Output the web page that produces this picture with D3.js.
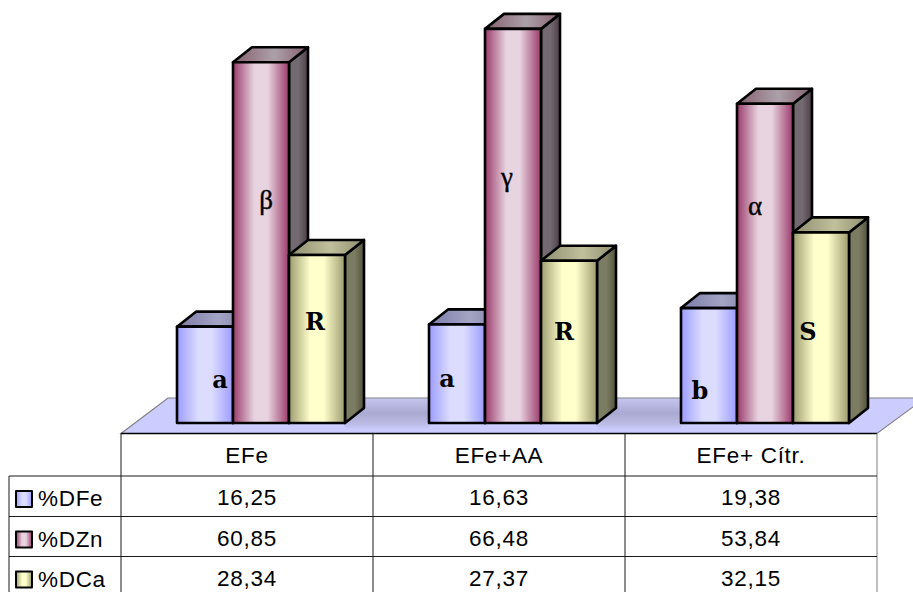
<!DOCTYPE html>
<html>
<head>
<meta charset="utf-8">
<script src="https://cdn.jsdelivr.net/npm/d3@7"></script>
<style>
html,body{margin:0;padding:0;background:#fff;}
svg{display:block;}
text{font-family:"Liberation Sans",Arial,sans-serif;fill:#000;}
</style>
</head>
<body>
<svg id="chart" width="913" height="592"></svg>
<script>
// Dissolution percentages per extract and element
const categories = ["EFe", "EFe+AA", "EFe+ Cítr."];
const seriesNames = ["%DFe", "%DZn", "%DCa"];
const dFe = [16.25, 16.63, 19.38];
const dZn = [60.85, 66.48, 53.84];
const dCa = [28.34, 27.37, 32.15];
const tickLabels = [["16,25", "16,63", "19,38"], ["60,85", "66,48", "53,84"], ["28,34", "27,37", "32,15"]];
const letterFe = ["a", "a", "b"];
const letterZn = ["β", "γ", "α"];
const letterCa = ["R", "R", "S"];

const series = [dFe, dZn, dCa];
const letters = [letterFe, letterZn, letterCa];

const svg = d3.select("#chart");
const defs = svg.append("defs");

// Face colours: edge, centre, side shade and top shade
const palettes = [
  {edge:"#9c9cff", mid:"#dcdcff", sideA:"#5c5c88", sideB:"#7c7ca4", topA:"#7c7ca8", topB:"#a4a4c4"},
  {edge:"#9a3a6a", mid:"#e8d4e0", sideA:"#4e3e48", sideB:"#726a70", topA:"#86606f", topB:"#aca0a8"},
  {edge:"#9c9c70", mid:"#ffffcc", sideA:"#54543e", sideB:"#7c7c62", topA:"#8e8e70", topB:"#c0c09c"}
];

function hGrad(id, stops) {
  const g = defs.append("linearGradient").attr("id", id)
    .attr("x1", 0).attr("x2", 1).attr("y1", 0).attr("y2", 0);
  stops.forEach(([o, c]) => g.append("stop").attr("offset", o).attr("stop-color", c));
}
palettes.forEach((p, i) => {
  hGrad("front" + i, [[0, p.edge], [0.38, p.mid], [0.62, p.mid], [1, p.edge]]);
  hGrad("side" + i, [[0, p.sideB], [0.5, p.sideB], [1, p.sideA]]);
  hGrad("top" + i, [[0, p.topA], [0.55, p.topB], [1, p.topA]]);
});
const shade = defs.append("linearGradient").attr("id", "floorShade")
  .attr("x1", 0).attr("x2", 0).attr("y1", 0).attr("y2", 1);
[[0, "#c4c4ee"], [0.45, "#a9a9d2"], [0.72, "#b6b6de"], [1, "#ccccff"]]
  .forEach(([o, c]) => shade.append("stop").attr("offset", o).attr("stop-color", c));

const baseY = 423;
const y = d3.scaleLinear().domain([0, 70]).range([baseY, baseY - 415]);
const tableX = d3.scalePoint().domain(categories).range([121, 625]);
const barX = d3.scaleBand().domain(d3.range(3)).range([56, 224]).paddingInner(0).paddingOuter(0);
const depth = {x: 19, y: 15};

// Floor beneath the bars
const floorY = {front: 433.5, back: 398};
svg.append("polygon")
  .attr("points", [[121, floorY.front], [168, floorY.back], [925, floorY.back], [877, floorY.front]].join(" "))
  .attr("fill", "#ccccff").attr("stroke", "#808080").attr("stroke-width", 1.2);
// Soft shading on the floor between neighbouring bar groups
[0, 1].forEach(i => {
  const x0 = tableX(categories[i]) + barX(2) + barX.bandwidth();
  const x1 = tableX(categories[i + 1]) + barX(0);
  svg.append("rect").attr("x", x0).attr("y", floorY.back + 1).attr("width", x1 - x0).attr("height", 31)
    .attr("fill", "url(#floorShade)");
});
svg.append("line").attr("x1", 121).attr("x2", 877).attr("y1", floorY.front).attr("y2", floorY.front)
  .attr("stroke", "#000").attr("stroke-width", 1.5);

// Bars, drawn left to right so each front overlaps the previous side
const stroke = {stroke: "#000", "stroke-width": 2.6, "stroke-linejoin": "round"};
function styled(sel) { Object.entries(stroke).forEach(([k, v]) => sel.attr(k, v)); return sel; }

categories.forEach((cat, c) => {
  seriesNames.forEach((name, s) => {
    const x0 = tableX(cat) + barX(s), x1 = x0 + barX.bandwidth();
    const top = y(series[s][c]);
    const g = svg.append("g").attr("class", "bar");
    styled(g.append("polygon"))
      .attr("points", [[x1, top], [x1 + depth.x, top - depth.y], [x1 + depth.x, baseY - depth.y], [x1, baseY]].join(" "))
      .attr("fill", `url(#side${s})`);
    styled(g.append("polygon"))
      .attr("points", [[x0, top], [x0 + depth.x, top - depth.y], [x1 + depth.x, top - depth.y], [x1, top]].join(" "))
      .attr("fill", `url(#top${s})`);
    styled(g.append("rect"))
      .attr("x", x0).attr("y", top).attr("width", x1 - x0).attr("height", baseY - top)
      .attr("fill", `url(#front${s})`);
  });
});

// Significance letters written over the bars
const letterPos = [
  [[220, 388], [266, 209], [315, 330]],
  [[447, 387], [507, 186], [564, 340]],
  [[700, 399], [755, 215], [808, 340]]
];
letters.forEach((row, s) => row.forEach((t, c) => {
  const [lx, ly] = letterPos[c][s];
  svg.append("text").attr("x", lx).attr("y", ly).attr("text-anchor", "middle")
    .style("font-family", s === 1 ? "'Liberation Serif',serif" : "'DejaVu Serif',serif")
    .style("font-weight", s === 1 ? "normal" : "bold")
    .style("font-size", s === 1 ? "27px" : "24px")
    .style("stroke", s === 1 ? "#000" : "none")
    .style("stroke-width", "0.4px")
    .text(t);
}));

// Data table under the plot
const rowY = [433.5, 476, 516.5, 556.5, 597];
const colX = [121, 373, 625, 877];
const tbl = svg.append("g").attr("stroke", "#1a1a1a").attr("stroke-width", 1);
colX.forEach((x, i) => tbl.append("line").attr("x1", x).attr("x2", x).attr("y1", rowY[0]).attr("y2", rowY[4]).attr("stroke", i === 3 ? "#808080" : "#1a1a1a"));
rowY.slice(1).forEach(yy => tbl.append("line").attr("x1", 9).attr("x2", 877).attr("y1", yy).attr("y2", yy));
tbl.append("line").attr("x1", 9).attr("x2", 9).attr("y1", rowY[1]).attr("y2", rowY[4]);

const fontSize = "22.5px";
const tracking = "0.7px";
categories.forEach((cat, c) => {
  svg.append("text").attr("x", (colX[c] + colX[c + 1]) / 2).attr("y", 463)
    .attr("text-anchor", "middle").style("font-size", fontSize).style("letter-spacing", tracking).text(cat);
  tickLabels.forEach((row, s) => {
    svg.append("text").attr("x", (colX[c] + colX[c + 1]) / 2).attr("y", rowY[s + 1] + 29)
      .attr("text-anchor", "middle").style("font-size", fontSize).style("letter-spacing", tracking).text(row[c]);
  });
});

// Legend keys in the row headers
seriesNames.forEach((name, s) => {
  const ry = rowY[s + 1];
  styled(svg.append("rect")).attr("x", 16).attr("y", ry + 15).attr("width", 16).attr("height", 16)
    .attr("fill", `url(#front${s})`).attr("stroke-width", 2);
  svg.append("text").attr("x", 38).attr("y", ry + 30).style("font-size", fontSize).style("letter-spacing", tracking).text(name);
});
</script>
</body>
</html>
